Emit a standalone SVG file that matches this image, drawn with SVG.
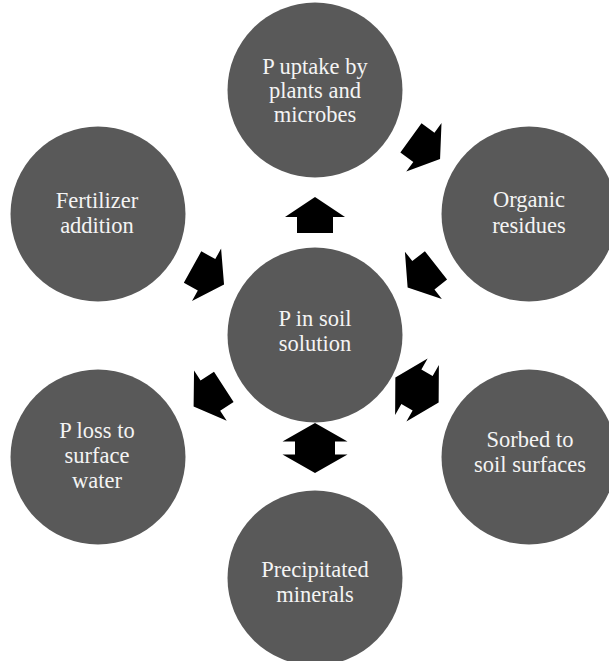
<svg xmlns="http://www.w3.org/2000/svg" width="609" height="661" viewBox="0 0 609 661">
  <defs>
    <style>
      .node { fill: #595959; }
      .label { font-family: "Liberation Serif", "Times New Roman", serif; font-size: 22.5px; fill: #f4f4f4; text-anchor: middle; }
      .arrow { fill: #000000; }
    </style>
    <!-- single arrow, pointing up, centred on the origin -->
    <path id="arrow1" d="M0,-18 L30,2 L18,2 L18,18 L-18,18 L-18,2 L-30,2 Z"/>
    <!-- double-headed arrow, vertical, centred on the origin -->
    <path id="arrow2" d="M0,-25 L32.5,-6.5 L20,-6.5 L20,6.5 L32.5,6.5 L0,25 L-32.5,6.5 L-20,6.5 L-20,-6.5 L-32.5,-6.5 Z"/>
  </defs>
  <rect width="609" height="661" fill="#ffffff"/>

  <g id="connectors" class="arrow">
    <use href="#arrow1" transform="translate(315,215)"/>
    <use href="#arrow1" transform="translate(425.5,148.5) rotate(126)"/>
    <use href="#arrow1" transform="translate(208.3,275.8) rotate(119)"/>
    <use href="#arrow1" transform="translate(421.8,276.5) rotate(232)"/>
    <use href="#arrow1" transform="translate(208.7,396.7) rotate(237)"/>
    <use href="#arrow2" transform="translate(417,390) rotate(-60)"/>
    <use href="#arrow2" transform="translate(315,448)"/>
  </g>

  <g id="node-uptake">
    <circle class="node" cx="315" cy="90" r="87.5"/>
    <text class="label" x="315" y="74">P uptake by</text>
    <text class="label" x="315" y="98">plants and</text>
    <text class="label" x="315" y="122">microbes</text>
  </g>

  <g id="node-organic">
    <circle class="node" cx="529" cy="214" r="87.5"/>
    <text class="label" x="529" y="207">Organic</text>
    <text class="label" x="529" y="233">residues</text>
  </g>

  <g id="node-fertilizer">
    <circle class="node" cx="98" cy="214" r="87.5"/>
    <text class="label" x="97" y="208">Fertilizer</text>
    <text class="label" x="97" y="233">addition</text>
  </g>

  <g id="node-solution">
    <circle class="node" cx="315" cy="335" r="87.5"/>
    <text class="label" x="315" y="326">P in soil</text>
    <text class="label" x="315" y="351">solution</text>
  </g>

  <g id="node-loss">
    <circle class="node" cx="98" cy="457" r="87.5"/>
    <text class="label" x="97" y="438">P loss to</text>
    <text class="label" x="97" y="463">surface</text>
    <text class="label" x="97" y="488">water</text>
  </g>

  <g id="node-sorbed">
    <circle class="node" cx="529" cy="457" r="87.5"/>
    <text class="label" x="530" y="447">Sorbed to</text>
    <text class="label" x="530" y="472">soil surfaces</text>
  </g>

  <g id="node-precipitated">
    <circle class="node" cx="315" cy="578" r="87.5"/>
    <text class="label" x="315" y="577">Precipitated</text>
    <text class="label" x="315" y="602">minerals</text>
  </g>
</svg>
